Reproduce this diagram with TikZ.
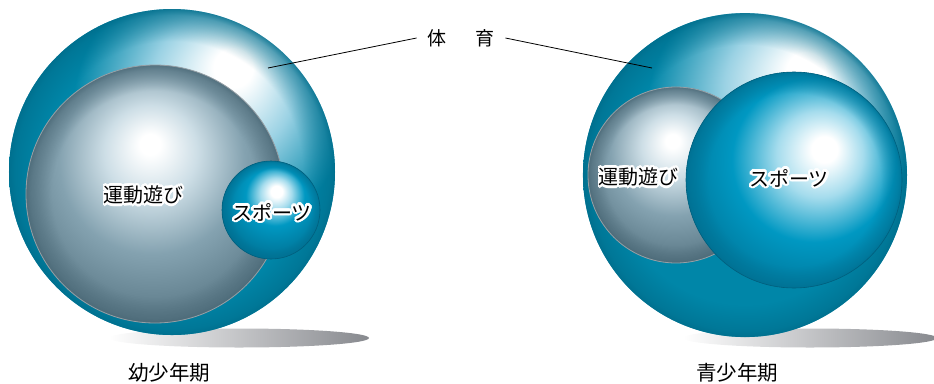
\documentclass[tikz,border=0pt]{standalone}
\usepackage{fontspec}
\usetikzlibrary{fadings}
\newfontfamily\jp{Noto Sans CJK JP}
\definecolor{tdark}{RGB}{0,108,138}
\definecolor{tmid}{RGB}{0,134,168}
\definecolor{tlight}{RGB}{155,210,228}
\definecolor{cmid}{RGB}{0,152,194}
\definecolor{cdark}{RGB}{0,112,146}
\definecolor{clight}{RGB}{165,220,237}
\definecolor{gdark}{RGB}{74,104,118}
\definecolor{gmid}{RGB}{132,162,176}
\definecolor{glight}{RGB}{205,222,230}
\definecolor{shadowgray}{RGB}{135,137,142}
\definecolor{grayrim}{RGB}{150,160,166}
\definecolor{bluerim}{RGB}{0,95,125}
\pgfdeclareradialshading{bigball}{\pgfpoint{10bp}{17bp}}{color(0bp)=(white); color(3bp)=(white); color(11bp)=(tlight); color(21bp)=(tmid); color(34bp)=(tmid); color(44bp)=(tdark); color(50bp)=(tdark)}
\pgfdeclareradialshading{grayball}{\pgfpoint{-1bp}{10bp}}{color(0bp)=(white); color(2bp)=(white); color(9bp)=(glight); color(18bp)=(gmid); color(33bp)=(gdark); color(50bp)=(gdark)}
\pgfdeclareradialshading{smallball}{\pgfpoint{3bp}{10bp}}{color(0bp)=(white); color(3bp)=(white); color(8bp)=(clight); color(15bp)=(cmid); color(30bp)=(cdark); color(50bp)=(cdark)}
\pgfdeclareradialshading{sportball}{\pgfpoint{7.5bp}{7.5bp}}{color(0bp)=(white); color(3bp)=(white); color(10bp)=(clight); color(19bp)=(cmid); color(32bp)=(cdark); color(50bp)=(cdark)}
\pgfdeclareradialshading{rimshade}{\pgfpointorigin}{color(0bp)=(black); color(20bp)=(black); color(24bp)=(white!55!black); color(25bp)=(white!85!black); color(50bp)=(white!85!black)}
\pgfdeclarefading{rimfade}{\pgfuseshading{rimshade}}
\newcommand\hl[3]{\rlap{\kern#1\raisebox{#2}{#3}}}
\newcommand\halocopies[1]{%
  \hl{2.6pt}{0pt}{#1}\hl{-2.6pt}{0pt}{#1}\hl{0pt}{2.6pt}{#1}\hl{0pt}{-2.6pt}{#1}%
  \hl{1.84pt}{1.84pt}{#1}\hl{-1.84pt}{1.84pt}{#1}\hl{1.84pt}{-1.84pt}{#1}\hl{-1.84pt}{-1.84pt}{#1}%
  \hl{2.4pt}{1pt}{#1}\hl{-2.4pt}{1pt}{#1}\hl{2.4pt}{-1pt}{#1}\hl{-2.4pt}{-1pt}{#1}%
  \hl{1pt}{2.4pt}{#1}\hl{-1pt}{2.4pt}{#1}\hl{1pt}{-2.4pt}{#1}\hl{-1pt}{-2.4pt}{#1}%
  \hl{1.3pt}{0pt}{#1}\hl{-1.3pt}{0pt}{#1}\hl{0pt}{1.3pt}{#1}\hl{0pt}{-1.3pt}{#1}%
  #1}
\tikzset{
  spheretext/.style={font=\jp\fontsize{20}{24}\selectfont, inner sep=0pt},
  labeltext/.style={font=\jp\fontsize{20.5}{24}\selectfont, inner sep=0pt},
  leader/.style={draw=black, line width=0.8pt},
  halo/.style={white, fit fading=false, fading transform={shift={#1}}},
}
\begin{tikzfadingfrompicture}[name=haloUndo]
\node[spheretext, text=white] (hu) at (0,0) {\halocopies{運動遊び}};
\end{tikzfadingfrompicture}
\begin{tikzfadingfrompicture}[name=haloSport]
\node[spheretext, text=white] (hs) at (0,0) {\halocopies{スポーツ}};
\end{tikzfadingfrompicture}
\begin{document}
\begin{tikzpicture}[x=1pt,y=-1pt]
\useasboundingbox (0,0) rectangle (934,383);
% shadows
\shade[left color=white,right color=shadowgray] (239,338) ellipse [x radius=130, y radius=9.5];
\shade[left color=white,right color=shadowgray] (810,338) ellipse [x radius=127, y radius=9.5];
% left: young childhood
\shade[shading=bigball] (172,172) circle [radius=163];
\fill[tdark, path fading=rimfade] (172,172) circle [radius=163];
\shade[shading=grayball] (155,194) circle [radius=129];
\fill[gdark, path fading=rimfade] (155,194) circle [radius=129];
\draw[grayrim, line width=0.8pt] (155,194) circle [radius=129];
\shade[shading=smallball] (271,210) circle [radius=49];
\fill[cdark, path fading=rimfade] (271,210) circle [radius=49];
\draw[bluerim, line width=0.6pt] (271,210) circle [radius=49];
% right: adolescence
\shade[shading=bigball] (745,175) circle [radius=162];
\fill[tdark, path fading=rimfade] (745,175) circle [radius=162];
\shade[shading=grayball] (676,175) circle [radius=88];
\fill[gdark, path fading=rimfade] (676,175) circle [radius=88];
\draw[grayrim, line width=0.8pt] (676,175) circle [radius=88];
\shade[shading=sportball] (794,180) circle [radius=108];
\fill[cdark, path fading=rimfade] (794,180) circle [radius=108];
\draw[bluerim, line width=0.6pt] (794,180) circle [radius=108];
% white halos behind sphere texts
\fill[halo={(143,195)}, path fading=haloUndo] (93,178) rectangle (193,212);
\fill[halo={(272,212)}, path fading=haloSport] (222,195) rectangle (322,229);
\fill[halo={(638,177)}, path fading=haloUndo] (588,160) rectangle (688,194);
\fill[halo={(789,178)}, path fading=haloSport] (739,161) rectangle (839,195);
% sphere texts
\node[spheretext] (undoL) at (143,195) {運動遊び};
\node[spheretext] (sportL) at (272,212) {スポーツ};
\node[spheretext] (undoR) at (638,177) {運動遊び};
\node[spheretext] (sportR) at (789,178) {スポーツ};
% title and leaders
\node[font=\jp\fontsize{19}{22}\selectfont, inner xsep=11pt, inner ysep=2pt] (tai) at (461,38) {体\hspace{1.5em}育};
\coordinate (ptL) at (268,68);
\coordinate (ptR) at (652,68);
\draw[leader] (tai.west) -- (ptL);
\draw[leader] (tai.east) -- (ptR);
% labels
\node[labeltext] (ageL) at (169,373) {幼少年期};
\node[labeltext] (ageR) at (737,373) {青少年期};
\end{tikzpicture}
\end{document}
